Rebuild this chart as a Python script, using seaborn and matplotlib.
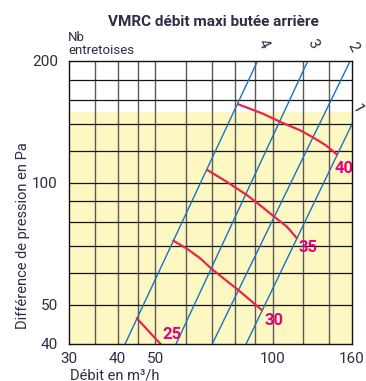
import numpy as np
import pandas as pd
import matplotlib
matplotlib.use("Agg")
import matplotlib.pyplot as plt
import seaborn as sns

sns.set_theme(style="white")
plt.rcParams['font.family'] = ['Roboto', 'DejaVu Sans']

# Axis ticks and grid
x_ticks = [30, 40, 50, 100, 160]
y_ticks = [40, 50, 100, 200]
x_grid = [35, 40, 45, 50, 60, 70, 80, 90, 100, 120, 140]
y_grid = [50, 60, 70, 80, 90, 100, 120, 140, 160, 180]

# Spacer-count lines: flow (m3/h) at 40 Pa and at 200 Pa
spacer_labels = ["4", "3", "2", "1"]
spacer_q_40pa = [41.8, 56.5, 70.0, 85.5]
spacer_q_200pa = [91.5, 123.2, 158.3, 191.5]

# Iso-curves (flow, pressure)
curve_labels = ["25", "30", "35", "40"]
curve_25_q = [44.8, 51.8]
curve_25_p = [46.3, 39.8]
curve_30_q = [55.6, 60.5, 65.2, 69.5, 75.0, 81.2, 87.5, 93.9]
curve_30_p = [72.0, 68.6, 65.1, 61.5, 58.0, 54.6, 51.4, 48.5]
curve_35_q = [68.0, 76.3, 85.9, 93.0, 100.5, 108.8, 115.5]
curve_35_p = [107.6, 100.6, 93.3, 88.0, 82.8, 78.0, 73.0]
curve_40_q = [81.7, 94.0, 106.7, 117.5, 127.4, 137.1, 146.3]
curve_40_p = [156.3, 148.5, 140.3, 135.0, 129.3, 123.8, 117.6]

# Label anchor positions (flow, pressure)
curve_label_q = [55.2, 101.0, 123.5, 152.5]
curve_label_p = [42.3, 45.8, 69.3, 108.6]
spacer_label_q = [94.6, 127.2, 161.2, 165.0]
spacer_label_p = [220.0, 220.0, 216.0, 152.0]

yellow_zone = (40, 150)

navy = "#2b2e45"
blue = "#1b72c0"
red = "#e8254a"
magenta = "#e6007e"
yellow = "#fdf7c2"

spacer_df = pd.DataFrame({
    "q": spacer_q_40pa + spacer_q_200pa,
    "p": [40] * len(spacer_labels) + [200] * len(spacer_labels),
    "spacer": spacer_labels * 2,
})

curve_df = pd.concat([
    pd.DataFrame({"q": q, "p": p, "curve": lab})
    for lab, q, p in zip(curve_labels,
                         [curve_25_q, curve_30_q, curve_35_q, curve_40_q],
                         [curve_25_p, curve_30_p, curve_35_p, curve_40_p])
], ignore_index=True)

fig = plt.figure(figsize=(3.66, 3.81), dpi=100)
ax = fig.add_axes([69 / 366, 1 - 344 / 381, 283 / 366, 283 / 381])
ax.set_xscale("log")
ax.set_yscale("log")
ax.set_xlim(30, 160)
ax.set_ylim(40, 200)

ax.axhspan(*yellow_zone, color=yellow, zorder=0, lw=0)
for gx in x_grid:
    ax.axvline(gx, color="#5a5a5a", lw=1.0, zorder=1)
for gy in y_grid:
    ax.axhline(gy, color="#151515", lw=0.9, zorder=1)

sns.lineplot(data=spacer_df, x="q", y="p", units="spacer", estimator=None,
             sort=False, color=blue, lw=1.0, ax=ax, zorder=3, legend=False)
sns.lineplot(data=curve_df, x="q", y="p", units="curve", estimator=None,
             sort=False, color=red, lw=1.6, ax=ax, zorder=4, legend=False)

for lab, q, p in zip(curve_labels, curve_label_q, curve_label_p):
    ax.text(q, p, lab, color=magenta, fontsize=12, fontweight="bold",
            ha="center", va="center", zorder=5)
for lab, q, p in zip(spacer_labels, spacer_label_q, spacer_label_p):
    ax.text(q, p, lab, color=navy, fontsize=11, rotation=-62,
            ha="center", va="center", clip_on=False)

ax.set_xticks(x_ticks)
ax.set_xticklabels([str(v) for v in x_ticks])
ax.set_yticks(y_ticks)
ax.set_yticklabels([str(v) for v in y_ticks])
ax.minorticks_off()
ax.tick_params(axis="both", length=0, labelsize=11, labelcolor=navy)
ax.tick_params(axis="x", pad=6)
ax.tick_params(axis="y", pad=8)
ax.set_xlabel("")
ax.set_ylabel("")
for s in ax.spines.values():
    s.set_color("#111111")
    s.set_linewidth(1.0)
    s.set_zorder(6)

fig.text(213 / 366, 1 - 22 / 381, "VMRC débit maxi butée arrière",
         ha="center", va="center", fontsize=11, fontweight="bold", color=navy)
fig.text(68 / 366, 1 - 44 / 381, "Nb\nentretoises", ha="left", va="center",
         fontsize=9.5, color=navy, linespacing=1.0)
fig.text(70 / 366, 1 - 375 / 381, "Débit en m³/h", ha="left", va="center",
         fontsize=10.5, color=navy)
fig.text(22.7 / 366, 1 - 236 / 381, "Différence de pression en Pa",
         rotation=90, ha="center", va="center", fontsize=10.5, color=navy)

fig.savefig("out.png", dpi=100)
